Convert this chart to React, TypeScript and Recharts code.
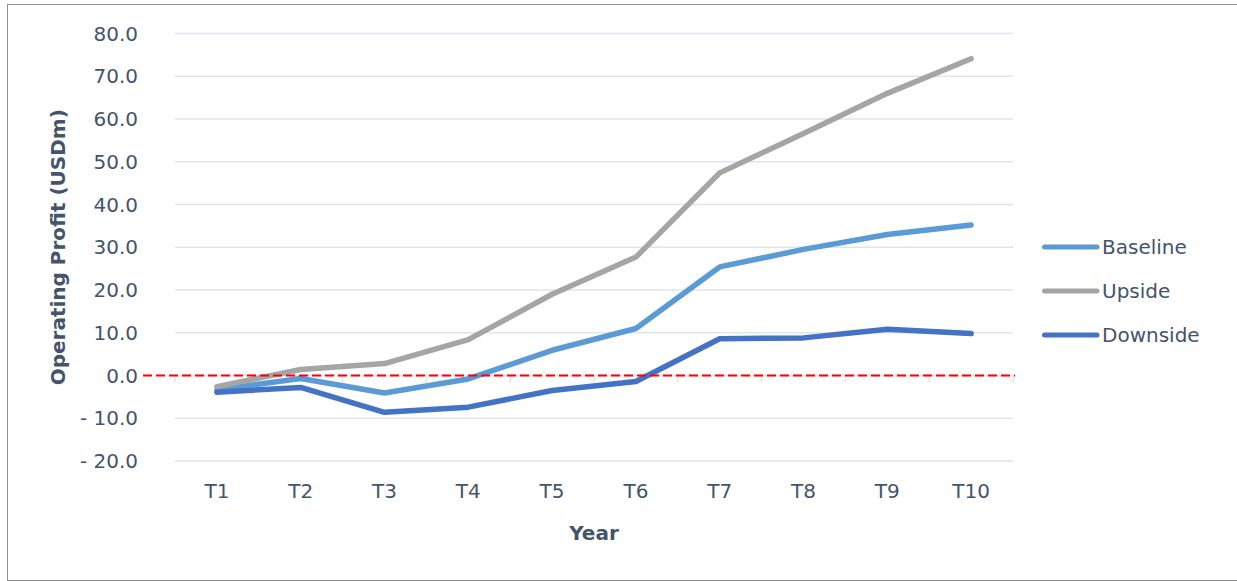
import { LineChart, Line, XAxis, YAxis, CartesianGrid, Legend, ReferenceLine } from 'recharts'

const years = ['T1', 'T2', 'T3', 'T4', 'T5', 'T6', 'T7', 'T8', 'T9', 'T10']
const baseline = [-3.3, -0.7, -4.1, -0.8, 5.9, 11.0, 25.4, 29.5, 33.0, 35.2]
const upside = [-2.6, 1.4, 2.8, 8.4, 19.0, 27.7, 47.4, 56.6, 66.0, 74.1]
const downside = [-3.9, -2.8, -8.6, -7.4, -3.5, -1.4, 8.6, 8.8, 10.8, 9.8]
const yTicks = [-20, -10, 0, 10, 20, 30, 40, 50, 60, 70, 80]

const data = years.map((year, i) => ({
  year,
  Baseline: baseline[i],
  Upside: upside[i],
  Downside: downside[i],
}))

const TEXT = '#44546A'
const GRID = '#E1E5EB'
const FONT = '"DejaVu Sans", sans-serif'

const series = [
  { key: 'Baseline', color: '#5B9BD5' },
  { key: 'Upside', color: '#A5A5A5' },
  { key: 'Downside', color: '#4472C4' },
]

// accounting style: "- 10.0"
const fmt = (v: number) => (v < 0 ? `- ${Math.abs(v).toFixed(1)}` : v.toFixed(1))

// grey category axis sitting on the zero line, ticks between categories
function ZeroAxis(props: any) {
  const { x1, x2, y1 } = props
  const step = (x2 - x1) / years.length
  return (
    <g>
      <line x1={x1} x2={x2} y1={y1} y2={y1} stroke={GRID} strokeWidth={1.5} />
      {years.map((_, i) => (
        <line key={i} x1={x1 + step * i} x2={x1 + step * i} y1={y1} y2={y1 + 7} stroke={GRID} strokeWidth={1.5} />
      ))}
      <line x1={x2} x2={x2} y1={y1} y2={y1 + 7} stroke={GRID} strokeWidth={1.5} />
    </g>
  )
}

function RedZero(props: any) {
  const { x1, x2, y1 } = props
  return <line x1={x1 - 32} x2={x2 + 2} y1={y1} y2={y1} stroke="#FF0000" strokeWidth={2} strokeDasharray="9 4" />
}

function LegendContent() {
  return (
    <div style={{ fontFamily: FONT }}>
      {series.map((s) => (
        <div key={s.key} style={{ display: 'flex', alignItems: 'center', height: 44 }}>
          <svg width={62} height={10}>
            <line x1={4.5} x2={57} y1={5} y2={5} stroke={s.color} strokeWidth={5} strokeLinecap="round" />
          </svg>
          <span style={{ fontSize: 20, color: TEXT }}>{s.key}</span>
        </div>
      ))}
    </div>
  )
}

export default function App() {
  return (
    <div style={{ position: 'absolute', left: 0, top: 0, width: 1237, height: 581, background: '#fff' }}>
      <div
        style={{
          position: 'absolute',
          left: 7,
          top: 4,
          width: 1240,
          height: 575,
          borderLeft: '1.5px solid #8f8f8f',
          borderTop: '1.5px solid #8f8f8f',
          borderBottom: '1.5px solid #8f8f8f',
        }}
      />
      <div style={{ position: 'absolute', left: 0, top: 0 }}>
        <LineChart width={1237} height={581} data={data} margin={{ top: 33.5, right: 224, bottom: 40, left: 0 }}>
          <CartesianGrid vertical={false} stroke={GRID} strokeWidth={1.5} />
          <XAxis
            dataKey="year"
            axisLine={false}
            tickLine={false}
            tickSize={0}
            tickMargin={23}
            height={80}
            interval={0}
            padding={{ left: 41.9, right: 41.9 }}
            tick={{ fontSize: 20, fill: TEXT, fontFamily: FONT }}
            label={{
              value: 'Year',
              position: 'insideBottom',
              offset: 1,
              style: { fontSize: 20, fontWeight: 'bold', fill: TEXT, fontFamily: FONT },
            }}
          />
          <YAxis
            width={175}
            domain={[-20, 80]}
            ticks={yTicks}
            axisLine={false}
            tickLine={false}
            tickSize={0}
            tickMargin={37}
            tickFormatter={fmt}
            tick={{ fontSize: 20, fill: TEXT, fontFamily: FONT }}
            label={{
              content: (p: any) => {
                const vb = p.viewBox
                const cx = vb.x + 58
                const cy = vb.y + vb.height / 2
                return (
                  <text
                    x={cx}
                    y={cy}
                    transform={`rotate(-90, ${cx}, ${cy})`}
                    textAnchor="middle"
                    dominantBaseline="central"
                    fontSize={20}
                    fontWeight="bold"
                    fill={TEXT}
                    fontFamily={FONT}
                  >
                    Operating Profit (USDm)
                  </text>
                )
              },
            }}
          />
          <ReferenceLine y={0} shape={ZeroAxis} />
          {series.map((s) => (
            <Line
              key={s.key}
              type="linear"
              dataKey={s.key}
              stroke={s.color}
              strokeWidth={5.5}
              strokeLinecap="round"
              strokeLinejoin="round"
              dot={false}
              activeDot={false}
              isAnimationActive={false}
            />
          ))}
          <ReferenceLine y={0} shape={RedZero} />
          <Legend
            layout="vertical"
            align="center"
            verticalAlign="middle"
            content={<LegendContent />}
            wrapperStyle={{ left: 1040, top: 225, width: 190 }}
          />
        </LineChart>
      </div>
    </div>
  )
}
